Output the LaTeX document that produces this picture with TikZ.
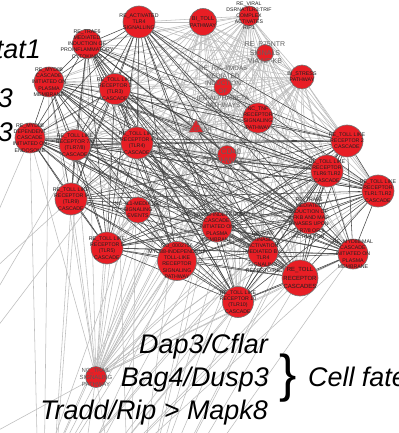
\documentclass[tikz,border=0pt]{standalone}
\usepackage{fontspec}
\setmainfont{Liberation Sans}
\usetikzlibrary{shapes.geometric}
\definecolor{nodered}{RGB}{232,30,37}
\pgfdeclarelayer{bg}
\pgfsetlayers{bg,main}
\begin{document}
\begin{tikzpicture}[x=1bp,y=-1bp,
  rnode/.style={circle, draw=black!55, line width=0.6bp, fill=nodered, inner sep=0},
  trinode/.style={regular polygon, regular polygon sides=3, draw=black!55, line width=0.5bp, fill=nodered, inner sep=0, minimum size=17bp},
  ntxt/.style={align=center, inner sep=0, text=black!88, font=\fontsize{5.3}{6.2}\selectfont},
  gtxt/.style={align=center, inner sep=0, text=black!62, font=\fontsize{7}{8.3}\selectfont},
  dk/.style={draw=black!72, line width=0.55bp},
  lt/.style={draw=black!26, line width=0.55bp},
  bigtxt/.style={inner sep=0, text=black, font=\fontsize{27}{27}\selectfont\itshape},
]
\useasboundingbox (0,0) rectangle (398,433);
\clip (0,0) rectangle (398,433);

% ---------- nodes ----------
\node[rnode,minimum size=32bp] (act) at (139,22) {};
\node[rnode,minimum size=27bp] (btoll) at (203,22) {};
\node[rnode,minimum size=20bp] (viral) at (249,16) {};
\node[rnode,minimum size=17bp] (p75) at (265,53) {};
\node[rnode,minimum size=24bp] (stress) at (302,77) {};
\node[rnode,minimum size=18bp] (rig) at (223,87) {};
\node[rnode,minimum size=30bp] (tnf) at (258,118) {};
\node[rnode,minimum size=32bp] (tlr2) at (347,141) {};
\node[rnode,minimum size=32bp] (tlr62) at (327,171) {};
\node[rnode,minimum size=32bp] (tlr12) at (378,191) {};
\node[rnode,minimum size=19bp] (cd40) at (227,155) {};
\node[trinode] (tri) at (196,128) {};
\node[rnode,minimum size=29bp] (traf6) at (87,44) {};
\node[rnode,minimum size=30bp] (myd88pm) at (49,82) {};
\node[rnode,minimum size=31bp] (tlr3) at (115,89) {};
\node[rnode,minimum size=30bp] (myd88e) at (30,138) {};
\node[rnode,minimum size=31bp] (tlr78) at (75,145) {};
\node[rnode,minimum size=32bp] (tlr4) at (137,143) {};
\node[rnode,minimum size=32bp] (tlr9) at (71,199) {};
\node[rnode,minimum size=26bp] (il1) at (138,210) {};
\node[rnode,minimum size=32bp] (tlr5) at (107,248) {};
\node[rnode,minimum size=39bp] (go) at (177,261) {};
\node[rnode,minimum size=30bp] (myd88ind) at (217,227) {};
\node[rnode,minimum size=32bp] (nfkb) at (309,218) {};
\node[rnode,minimum size=30bp] (mapk) at (263,252) {};
\node[rnode,minimum size=30bp] (mal) at (353,254) {};
\node[rnode,minimum size=36bp] (tollc) at (300,278) {};
\node[rnode,minimum size=31bp] (tlr10) at (238,302) {};
\node[rnode,minimum size=21bp] (trail) at (96,377) {};

% off-picture ends of edges
\coordinate (oA) at (42,650);
\coordinate (oB) at (25,520);
\coordinate (oC) at (130,560);
\coordinate (oD) at (-100,455);
\coordinate (oE) at (-60,462);
\coordinate (oF) at (70,560);
\coordinate (oG) at (125,560);
\coordinate (oH) at (-40,300);
\coordinate (oP) at (60,520);
\coordinate (oQ) at (110,600);

\def\Dlist{act,traf6,myd88pm,tlr3,myd88e,tlr78,tlr4,tlr9,tlr5,go,myd88ind,nfkb,mapk,mal,tollc,tlr10,tlr2,tlr62,tlr12}
\def\Llist{btoll,viral,p75,stress,rig,tnf,cd40,tri,il1,trail}

% ---------- edges ----------
\begin{pgfonlayer}{bg}
  \fill[white] (0,0) rectangle (398,433);
  \foreach \a in \Llist {
    \foreach \b in \Dlist { \draw[lt] (\a) -- (\b); }
  }
  \foreach \a [count=\i] in \Llist {
    \foreach \b [count=\j] in \Llist { \ifnum\j>\i \draw[lt] (\a) -- (\b); \fi }
  }
  \foreach \a in {myd88e,myd88pm,traf6,tlr78} { \draw[lt] (\a) -- (oA); }
  \foreach \a in {btoll,viral,stress,p75,tnf,rig,tlr2,tlr62} { \draw[lt] (\a) -- (oB); }
  \foreach \a in {act,btoll,viral,tnf,cd40,tlr3} { \draw[lt] (\a) -- (oC); }
  \foreach \a in {tlr4,tlr3} { \draw[lt] (\a) -- (oD); }
  \foreach \a in {myd88e,tlr9} { \draw[lt] (\a) -- (oH); }
  \foreach \a in {tlr10,tollc,mapk,mal,nfkb,go,myd88ind,tlr12} { \draw[lt] (\a) -- (oP); }
  \foreach \a in {tlr2,tlr62,tollc,mal,stress,tlr10} { \draw[lt] (\a) -- (oQ); }
  \draw[lt] (trail) -- (oE);
  \draw[lt] (trail) -- (oF);
  \draw[lt] (trail) -- (oG);
  \foreach \a [count=\i] in \Dlist {
    \foreach \b [count=\j] in \Dlist { \ifnum\j>\i \draw[dk] (\a) -- (\b); \fi }
  }
\end{pgfonlayer}

% ---------- node labels ----------
\node[ntxt] (act-t) at (act) {RE\_ACTIVATED\\TLR4\\SIGNALLING};
\node[ntxt,font=\fontsize{5.6}{7.6}\selectfont] (btoll-t) at (btoll) {BI\_TOLL\\PATHWAY};
\node[ntxt,font=\fontsize{5.2}{6}\selectfont] (viral-t) at (viral) {RE\_VIRAL\\DSRNA:TLR3:TRIF\\COMPLEX\\ACTIVATES\\RIP1};
\node[gtxt,font=\fontsize{7}{8.5}\selectfont] (p75-t) at (p75) {RE\_P75NTR\\SIGNALS\\VIA NF-KB};
\node[ntxt] (stress-t) at (stress) {BI\_STRESS\\PATHWAY};
\node[gtxt,font=\fontsize{6.5}{7.5}\selectfont] (rig-t) at (223,87) {RE\_RIG-I/MDA5\\MEDIATED\\INDUCTION\\OF\\IFN-ALPHA/BETA\\PATHWAYS};
\node[ntxt] (tnf-t) at (tnf) {NC\_TNF\\RECEPTOR\\SIGNALING\\PATHWAY};
\node[ntxt] (tlr2-t) at (tlr2) {RE\_TOLL LIKE\\RECEPTOR 2\\CASCADE};
\node[ntxt] (tlr62-t) at (tlr62) {RE\_TOLL LIKE\\RECEPTOR\\TLR6:TLR2\\CASCADE};
\node[ntxt] (tlr12-t) at (tlr12) {RE\_TOLL LIKE\\RECEPTOR\\TLR1:TLR2\\CASCADE};
\node[gtxt,font=\fontsize{8}{9}\selectfont] (cd40-t) at (225,156) {BI\_CD40\\PATHWAY};
\node[ntxt,text=black!60] (tri-t) at (197,127) {BI\_IL1R\\RECEPTOR};
\node[ntxt] (traf6-t) at (traf6) {RE\_TRAF6\\MEDIATED\\INDUCTION OF\\PROINFLAMMATORY\\CYTOKINES};
\node[ntxt] (myd88pm-t) at (myd88pm) {RE\_MYD88\\CASCADE\\INITIATED ON\\PLASMA\\MEMBRANE};
\node[ntxt] (tlr3-t) at (tlr3) {RE\_TOLL LIKE\\RECEPTOR 3\\(TLR3)\\CASCADE};
\node[ntxt] (myd88e-t) at (myd88e) {RE\_MYD88\\DEPENDENT\\CASCADE\\INITIATED ON\\ENDOSOME};
\node[ntxt] (tlr78-t) at (tlr78) {RE\_TOLL LIKE\\RECEPTOR 7/8\\(TLR7/8)\\CASCADE};
\node[ntxt] (tlr4-t) at (tlr4) {RE\_TOLL LIKE\\RECEPTOR 4\\(TLR4)\\CASCADE};
\node[ntxt] (tlr9-t) at (tlr9) {RE\_TOLL LIKE\\RECEPTOR 9\\(TLR9)\\CASCADE};
\node[ntxt] (il1-t) at (il1) {NC\_IL1-MEDIATED\\SIGNALING\\EVENTS};
\node[ntxt] (tlr5-t) at (tlr5) {RE\_TOLL LIKE\\RECEPTOR 5\\(TLR5)\\CASCADE};
\node[ntxt] (go-t) at (go) {GO\_0002756\\MYD88-INDEPENDENT\\TOLL-LIKE\\RECEPTOR\\SIGNALING\\PATHWAY};
\node[ntxt] (myd88ind-t) at (myd88ind) {RE\_MYD88-INDEPENDENT\\CASCADE\\INITIATED ON\\PLASMA\\MEMBRANE};
\node[ntxt] (nfkb-t) at (nfkb) {RE\_TRAF6\\MEDIATED\\INDUCTION OF\\NFKB AND MAP\\KINASES UPON\\TLR7/8 OR 9\\ACTIVATION};
\node[ntxt] (mapk-t) at (mapk) {RE\_MAP\\KINASE\\ACTIVATION\\MEDIATED BY\\TLR4\\SIGNALING\\REPERTOIRE};
\node[ntxt] (mal-t) at (mal) {RE\_MYD88:MAL\\CASCADE\\INITIATED ON\\PLASMA\\MEMBRANE};
\node[ntxt,font=\fontsize{6}{8.5}\selectfont] (tollc-t) at (tollc) {RE\_TOLL\\RECEPTOR\\CASCADES};
\node[ntxt] (tlr10-t) at (tlr10) {RE\_TOLL LIKE\\RECEPTOR 10\\(TLR10)\\CASCADE};
\node[ntxt,text=black!65,font=\fontsize{6}{7}\selectfont] (trail-t) at (trail) {NC\_TRAIL\\SIGNALING\\PATHWAY};

% ---------- big labels ----------
\node[bigtxt,anchor=base east] (stat) at (41,59) {tat1};
\node[bigtxt,anchor=base east] (g3a) at (13,108) {3};
\node[bigtxt,anchor=base east] (g3b) at (13,142) {3};
\node[bigtxt,anchor=base east] (dap) at (268,353) {Dap3/Cflar};
\node[bigtxt,anchor=base east] (bag) at (269,386) {Bag4/Dusp3};
\node[bigtxt,anchor=base east] (tradd) at (268,419) {Tradd/Rip > Mapk8};
\node[inner sep=0, font=\fontsize{52}{52}\selectfont, anchor=base west] (brace) at (279,391) {\}};
\node[bigtxt,anchor=base west] (fate) at (308,386) {Cell fate};
\end{tikzpicture}
\end{document}
